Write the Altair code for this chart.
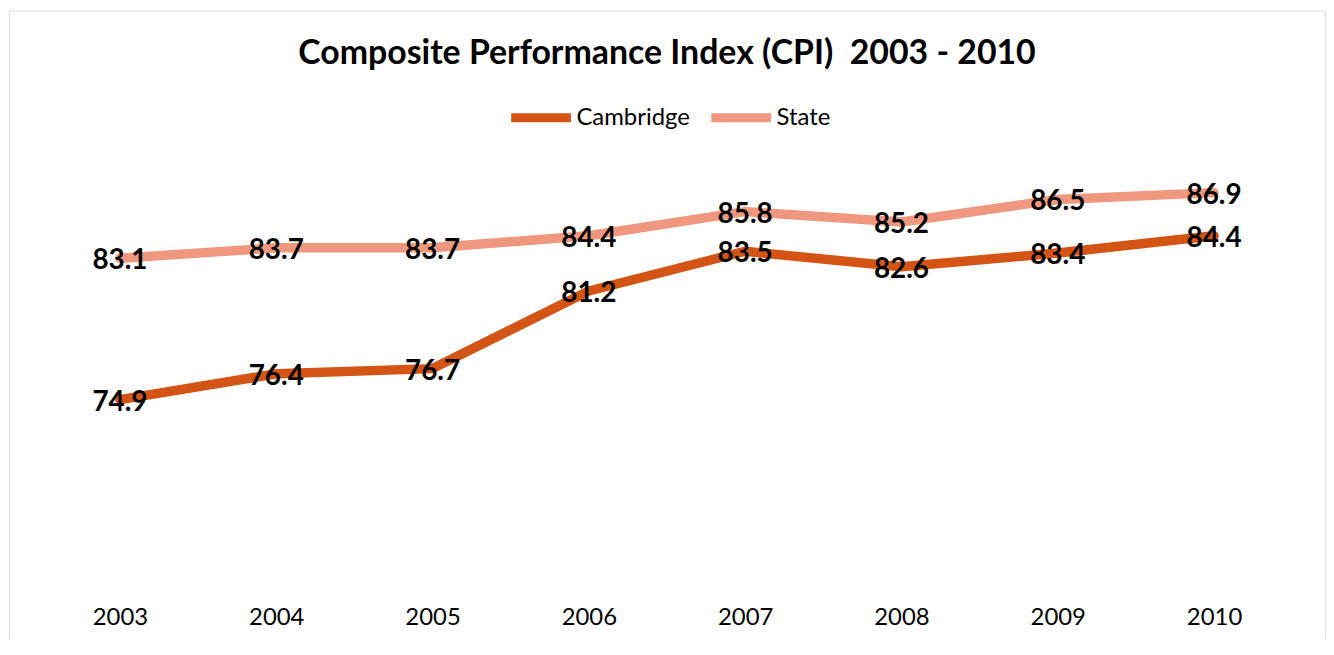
import altair as alt
import pandas as pd

years = ["2003", "2004", "2005", "2006", "2007", "2008", "2009", "2010"]
cambridge = [74.9, 76.4, 76.7, 81.2, 83.5, 82.6, 83.4, 84.4]
state = [83.1, 83.7, 83.7, 84.4, 85.8, 85.2, 86.5, 86.9]
series_names = ["Cambridge", "State"]
series_colors = ["#D35414", "#F0977F"]

rows = []
for name, vals in zip(series_names, [cambridge, state]):
    for y, v in zip(years, vals):
        rows.append({"Year": y, "Series": name, "CPI": v})
df = pd.DataFrame(rows)

FONT = "Lato"

x = alt.X(
    "Year:O",
    scale=alt.Scale(type="point", padding=0.710),
    axis=alt.Axis(
        title=None, domain=False, ticks=False, grid=False, labelAngle=0,
        labelFont=FONT, labelFontSize=24, labelColor="#000000",
        labelBaseline="middle", labelPadding=0, offset=-50,
    ),
)
y = alt.Y(
    "CPI:Q",
    scale=alt.Scale(domain=[59.38, 97.46], nice=False, zero=False),
    axis=None,
)

lines = alt.Chart(df).mark_line(strokeWidth=9.5, strokeCap="round", strokeJoin="round").encode(
    x=x,
    y=y,
    color=alt.Color(
        "Series:N",
        scale=alt.Scale(domain=series_names, range=series_colors),
        legend=alt.Legend(
            title=None, orient="none", direction="horizontal",
            legendX=500, legendY=73,
            symbolType="stroke", symbolStrokeWidth=9, symbolSize=3600,
            labelFont=FONT, labelFontSize=24, labelColor="#000000",
            labelOffset=1, columnPadding=2, padding=0,
        ),
    ),
    detail="Series:N",
)

labels = alt.Chart(df).mark_text(
    font=FONT, fontSize=28, fontWeight="bold", color="#000000",
    align="center", baseline="middle", dy=3,
).encode(
    x=x,
    y=y,
    text=alt.Text("CPI:Q", format=".1f"),
)

chart = alt.layer(lines, labels).properties(
    width=1322,
    height=660,
    padding={"left": 1, "top": 1, "right": 1, "bottom": -30},
    autosize=alt.AutoSizeParams(type="none"),
    title=alt.TitleParams(
        "Composite Performance Index (CPI)\u00a0 2003 - 2010",
        font=FONT, fontSize=34, fontWeight="bold", color="#000000",
        anchor="middle", frame="group", orient="top", baseline="middle",
        offset=-78,
    ),
).configure_view(
    stroke="#808080", strokeWidth=2, fill="#ffffff"
).configure(background="#ffffff")

chart.save("out.html", embed_options={"renderer": "svg", "actions": False})
